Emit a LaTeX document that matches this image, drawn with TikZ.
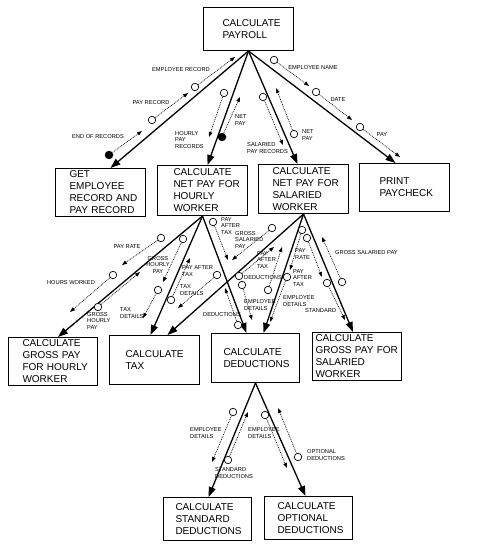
\documentclass[tikz,border=0pt]{standalone}
\usepackage{fontspec}
\setmainfont{Liberation Sans}
\usetikzlibrary{arrows.meta}
\newcommand{\boxfont}{\fontsize{10}{12}\selectfont}
\newcommand{\lblfont}{\fontsize{5.7}{6.6}\selectfont}
\begin{document}
\begin{tikzpicture}[x=1pt,y=-1pt,
  box/.style={draw, line width=1pt, font=\boxfont, align=left, anchor=north west, inner ysep=0pt},
  call/.style={line width=1.3pt, -{Triangle[length=10pt,width=7pt]}},
  cpl/.style={line width=0.65pt, dash pattern=on 0.9pt off 0.9pt, -{Triangle[length=5pt,width=3.6pt]}},
  oc/.style={circle, draw, line width=0.7pt, minimum size=7.5pt, inner sep=0pt, fill=white},
  fc/.style={circle, fill=black, minimum size=8.5pt, inner sep=0pt},
  lbl/.style={font=\lblfont, inner sep=0pt, align=left}]
\useasboundingbox (0,0) rectangle (478,553);

% ---------- boxes ----------
\node[box, minimum height=43pt, text width=52pt, inner xsep=19pt] (payroll) at (203,7) {CALCULATE\\PAYROLL};
\node[box, minimum height=48pt, text width=62pt, inner xsep=14pt] (get) at (55,168) {GET\\EMPLOYEE\\RECORD~AND\\PAY~RECORD};
\node[box, minimum height=50pt, text width=58pt, inner xsep=16pt] (hnet) at (157,165) {CALCULATE\\NET~PAY~FOR\\HOURLY\\WORKER};
\node[box, minimum height=49pt, text width=62pt, inner xsep=14pt] (snet) at (258,164) {CALCULATE\\NET~PAY~FOR\\SALARIED\\WORKER};
\node[box, minimum height=48pt, text width=50pt, inner xsep=20pt] (print) at (359,163) {PRINT\\PAYCHECK};
\node[box, minimum height=48pt, text width=61pt, inner xsep=14pt] (ghour) at (8,337) {CALCULATE\\GROSS~PAY\\FOR~HOURLY\\WORKER};
\node[box, minimum height=49pt, text width=58pt, inner xsep=16pt] (tax) at (109,335) {CALCULATE\\TAX};
\node[box, minimum height=49pt, text width=64pt, inner xsep=12pt] (ded) at (211,333) {CALCULATE\\DEDUCTIONS};
\node[box, minimum height=48pt, text width=83pt, inner xsep=3pt] (gsal) at (312,332) {CALCULATE\\GROSS~PAY~FOR\\SALARIED\\WORKER};
\node[box, minimum height=43pt, text width=64pt, inner xsep=12pt] (std) at (163,497) {CALCULATE\\STANDARD\\DEDUCTIONS};
\node[box, minimum height=43pt, text width=62pt, inner xsep=13pt] (opt) at (264,496) {CALCULATE\\OPTIONAL\\DEDUCTIONS};

% ---------- entry points ----------
\coordinate (get-in) at ([xshift=10pt]get.north);
\coordinate (hnet-in) at ([xshift=5pt]hnet.north);
\coordinate (snet-in) at ([xshift=-6pt]snet.north);
\coordinate (print-in) at ([xshift=-9pt]print.north);
\coordinate (ghour-in) at ([xshift=5pt]ghour.north);
\coordinate (tax-inh) at ([xshift=-4pt]tax.north);
\coordinate (tax-ins) at ([xshift=13pt]tax.north);
\coordinate (ded-inh) at ([xshift=-9pt]ded.north);
\coordinate (ded-ins) at ([xshift=8pt]ded.north);
\coordinate (gsal-in) at ([xshift=-4pt]gsal.north);
\coordinate (std-in) at ([xshift=1pt]std.north);
\coordinate (opt-in) at ([xshift=-3pt]opt.north);

% ---------- calls ----------
\draw[call] (payroll.south) -- (get-in);
\draw[call] (payroll.south) -- (hnet-in);
\draw[call] (payroll.south) -- (snet-in);
\draw[call] (payroll.south) -- (print-in);
\draw[call] (hnet.south) -- (ghour-in);
\draw[call] (hnet.south) -- (tax-inh);
\draw[call] (hnet.south) -- (ded-inh);
\draw[call] (snet.south) -- (tax-ins);
\draw[call] (snet.south) -- (ded-ins);
\draw[call] (snet.south) -- (gsal-in);
\draw[call] (ded.south) -- (std-in);
\draw[call] (ded.south) -- (opt-in);

% ---------- couples: circle node -> tip coordinate ----------
% top level
\node[oc] (c1) at (195,87) {};  \coordinate (t1) at (235,57);
\node[oc] (c2) at (152,120) {}; \coordinate (t2) at (188,93);
\node[fc] (c3) at (109,155) {}; \coordinate (t3) at (142,131);
\node[oc] (c4) at (224,93) {};  \coordinate (t4) at (209,137);
\node[fc] (c5) at (222,137) {}; \coordinate (t5) at (240,97);
\node[oc] (c6) at (263,97) {};  \coordinate (t6) at (283,145);
\node[oc] (c7) at (294,134) {}; \coordinate (t7) at (276,88);
\node[oc] (c8) at (274,60) {};  \coordinate (t8) at (309,86);
\node[oc] (c9) at (316,92) {};  \coordinate (t9) at (352,120);
\node[oc] (c10) at (360,127) {}; \coordinate (t10) at (400,157);
% hourly net pay
\node[oc] (c11) at (161,238) {}; \coordinate (t11) at (122,265);
\node[oc] (c12) at (113,275) {}; \coordinate (t12) at (70,312);
\node[oc] (c13) at (98,307) {};  \coordinate (t13) at (140,272);
\node[oc] (c14) at (183,239) {}; \coordinate (t14) at (163,282);
\node[oc] (c15) at (158,290) {}; \coordinate (t15) at (143,318);
\node[oc] (c16) at (171,300) {}; \coordinate (t16) at (190,258);
\node[oc] (c17) at (213,222) {}; \coordinate (t17) at (228,260);
\node[oc] (c18) at (242,285) {}; \coordinate (t18) at (252,320);
\node[oc] (c19) at (238,325) {}; \coordinate (t19) at (225,288);
% salaried net pay
\node[oc] (c20) at (272,228) {}; \coordinate (t20) at (232,260);
\node[oc] (c21) at (217,275) {}; \coordinate (t21) at (178,308);
\node[oc] (c22) at (239,276) {}; \coordinate (t22) at (274,247);
\node[oc] (c23) at (268,290) {}; \coordinate (t23) at (282,247);
\node[oc] (c24) at (302,230) {}; \coordinate (t24) at (290,270);
\node[oc] (c25) at (287,277) {}; \coordinate (t25) at (270,322);
\node[oc] (c26) at (307,238) {}; \coordinate (t26) at (322,277);
\node[oc] (c27) at (327,283) {}; \coordinate (t27) at (345,320);
\node[oc] (c28) at (342,282) {}; \coordinate (t28) at (322,237);
% deductions
\node[oc] (c29) at (233,412) {}; \coordinate (t29) at (212,462);
\node[oc] (c30) at (228,460) {}; \coordinate (t30) at (248,412);
\node[oc] (c31) at (265,415) {}; \coordinate (t31) at (287,468);
\node[oc] (c32) at (298,457) {}; \coordinate (t32) at (278,408);

\foreach \i in {1,...,32} {\draw[cpl] (c\i) -- (t\i);}

% ---------- labels ----------
\node[lbl] (l1) at (181,70) {EMPLOYEE RECORD};
\node[lbl] (l2) at (151,103) {PAY RECORD};
\node[lbl] (l3) at (98,137) {END OF RECORDS};
\node[lbl, anchor=west] (l4) at (175,140) {HOURLY\\PAY\\RECORDS};
\node[lbl, anchor=west] (l5) at (235,120) {NET\\PAY};
\node[lbl, anchor=west] (l6) at (247,148) {SALARIED\\PAY RECORDS};
\node[lbl, anchor=west] (l7) at (302,135) {NET\\PAY};
\node[lbl] (l8) at (313,68) {EMPLOYEE NAME};
\node[lbl] (l9) at (338,100) {DATE};
\node[lbl] (l10) at (382,135) {PAY};
\node[lbl] (l11) at (127,247) {PAY RATE};
\node[lbl] (l12) at (71,283) {HOURS WORKED};
\node[lbl, anchor=west] (l13) at (87,321) {GROSS\\HOURLY\\PAY};
\node[lbl, align=center] (l14) at (158,265) {GROSS\\HOURLY\\PAY};
\node[lbl, anchor=west] (l15) at (120,313) {TAX\\DETAILS};
\node[lbl, anchor=west] (l16) at (182,271) {PAY AFTER\\TAX};
\node[lbl, anchor=west] (l17) at (221,226) {PAY\\AFTER\\TAX};
\node[lbl, anchor=west] (l18) at (244,305) {EMPLOYEE\\DETAILS};
\node[lbl] (l19) at (222,315) {DEDUCTIONS};
\node[lbl, anchor=west] (l20) at (235,240) {GROSS\\SALARIED\\PAY};
\node[lbl, anchor=west] (l21) at (180,290) {TAX\\DETAILS};
\node[lbl, anchor=west] (l22) at (257,260) {PAY\\AFTER\\TAX};
\node[lbl, anchor=west] (l23) at (244,278) {DEDUCTIONS};
\node[lbl, anchor=west] (l24) at (293,278) {PAY\\AFTER\\TAX};
\node[lbl, anchor=west] (l25) at (283,301) {EMPLOYEE\\DETAILS};
\node[lbl, anchor=west] (l26) at (295,254) {PAY\\RATE};
\node[lbl, anchor=west] (l27) at (305,311) {STANDARD};
\node[lbl, anchor=west] (l28) at (335,253) {GROSS SALARIED PAY};
\node[lbl, anchor=west] (l29) at (190,433) {EMPLOYEE\\DETAILS};
\node[lbl, anchor=west] (l30) at (215,473) {STANDARD\\DEDUCTIONS};
\node[lbl, anchor=west] (l31) at (248,433) {EMPLOYEE\\DETAILS};
\node[lbl, anchor=west] (l32) at (307,455) {OPTIONAL\\DEDUCTIONS};
\end{tikzpicture}
\end{document}
